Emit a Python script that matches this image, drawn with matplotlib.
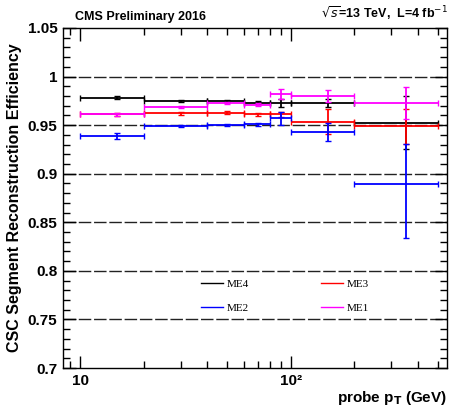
import numpy as np
import matplotlib
matplotlib.use("Agg")
import matplotlib.pyplot as plt
from matplotlib.ticker import FixedLocator, FuncFormatter, MultipleLocator, NullFormatter

# Data
bin_edges = [10, 20, 40, 60, 80, 100, 200, 500]
bin_centers = [15, 30, 50, 70, 90, 150, 350]
me4 = [0.978, 0.975, 0.975, 0.973, 0.973, 0.9725, 0.9525]
me4_err = [0.0015, 0.0012, 0.0012, 0.0015, 0.004, 0.004, 0.027]
me3 = [0.961, 0.962, 0.963, 0.961, 0.961, 0.9535, 0.949]
me3_err = [0.002, 0.0012, 0.0012, 0.0015, 0.003, 0.013, 0.018]
me2 = [0.939, 0.949, 0.950, 0.951, 0.957, 0.943, 0.889]
me2_err_lo = [0.003, 0.0012, 0.0012, 0.0015, 0.007, 0.0095, 0.055]
me2_err_hi = [0.003, 0.0012, 0.0012, 0.0015, 0.007, 0.0095, 0.042]
me1 = [0.961, 0.969, 0.973, 0.971, 0.982, 0.980, 0.9725]
me1_err = [0.002, 0.0012, 0.0012, 0.0015, 0.005, 0.006, 0.0165]
grid_levels = [0.75, 0.80, 0.85, 0.90, 0.95, 1.00]

fig = plt.figure(figsize=(4.49, 4.11), dpi=100)
ax = fig.add_axes([0.1403, 0.1046, 0.8552, 0.8273])

xc = np.array(bin_centers, dtype=float)
lo = xc - np.array(bin_edges[:-1])
hi = np.array(bin_edges[1:]) - xc

for g in grid_levels:
    ax.axhline(g, color="#222222", lw=1.0, dashes=(9, 2), zorder=1)

series = [
    ("ME4", me4, [me4_err, me4_err], "#000000"),
    ("ME3", me3, [me3_err, me3_err], "#ff0000"),
    ("ME2", me2, [me2_err_lo, me2_err_hi], "#0000ff"),
    ("ME1", me1, [me1_err, me1_err], "#ff00ff"),
]
handles = {}
for name, vals, err, col in series:
    ax.errorbar(xc, vals, yerr=err, xerr=[lo, hi], fmt="none", ecolor=col,
                elinewidth=1.3, capsize=2, capthick=1.0, zorder=3)
    h, = ax.plot([], [], color=col, lw=1.0, label=name)
    handles[name] = h

ax.set_xscale("log")
ax.set_xlim(8.3, 550)
ax.set_ylim(0.7, 1.05)

ax.xaxis.set_major_locator(FixedLocator([10, 100]))
ax.xaxis.set_major_formatter(FuncFormatter(lambda v, p: "10" if v == 10 else "10²"))
ax.xaxis.set_minor_locator(FixedLocator([9, 20, 30, 40, 50, 60, 70, 80, 90, 200, 300, 400, 500]))
ax.xaxis.set_minor_formatter(NullFormatter())
ax.yaxis.set_major_locator(MultipleLocator(0.05))
ax.yaxis.set_minor_locator(MultipleLocator(0.01))
ax.yaxis.set_major_formatter(FuncFormatter(lambda v, p: "%g" % round(v, 2)))

ax.tick_params(which="both", direction="in", top=True, right=True)
ax.tick_params(which="major", length=9, width=1.0, labelsize=11, pad=4)
ax.tick_params(which="minor", length=5, width=1.0)
for lab in ax.get_xticklabels() + ax.get_yticklabels():
    lab.set_fontweight("bold")
    lab.set_fontfamily("Liberation Sans")
for s in ax.spines.values():
    s.set_linewidth(1.0)

ax.set_ylabel("CSC Segment Reconstruction Efficiency", fontsize=11.5, fontweight="bold",
              family="Liberation Sans", labelpad=4)
ax.set_xlabel(r"probe p$_\mathbf{T}$ (GeV)", fontsize=11, fontweight="bold",
              family="Liberation Sans", loc="right", labelpad=1)

fig.text(0.167, 0.945, "CMS Preliminary 2016", fontsize=9, fontweight="bold",
         family="Liberation Sans", ha="left", va="bottom")
fig.text(0.997, 0.945, r"$\sqrt{s}$=13 TeV,  L=4 fb$^{-1}$", fontsize=9, fontweight="bold",
         family="Liberation Sans", ha="right", va="bottom")

leg = ax.legend([handles["ME4"], handles["ME2"], handles["ME3"], handles["ME1"]],
                ["ME4", "ME2", "ME3", "ME1"], ncol=2, frameon=False,
                prop={"family": "Liberation Serif", "size": 8},
                loc="center", bbox_to_anchor=(0.578, 0.212),
                handlelength=2.0, columnspacing=6.5, labelspacing=1.3, handletextpad=0.3)

fig.savefig("out.png", dpi=100)
